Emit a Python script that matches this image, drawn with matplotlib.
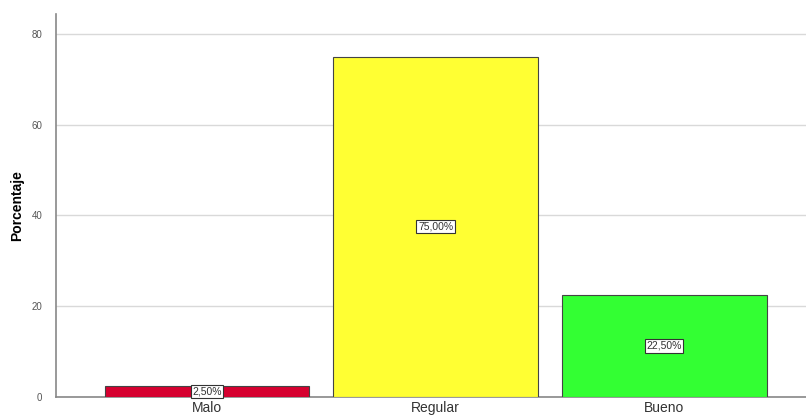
import numpy as np
import matplotlib.pyplot as plt

categorias = ["Malo", "Regular", "Bueno"]
porcentajes = [2.5, 75.0, 22.5]
colores = ["#d6002f", "#ffff33", "#33ff33"]
etiquetas = ["2,50%", "75,00%", "22,50%"]

plt.rcParams['font.family'] = ['Liberation Sans', 'DejaVu Sans']

fig = plt.figure(figsize=(8.06, 4.18), dpi=100)
ax = fig.add_axes([56 / 806, 21 / 418, 750 / 806, 383 / 418])

x = np.arange(len(categorias))
ax.bar(x, porcentajes, width=0.895, color=colores, edgecolor="#444444",
       linewidth=0.8, zorder=3)

for xi, v, t in zip(x, porcentajes, etiquetas):
    ax.text(xi, v / 2, t, ha="center", va="center", fontsize=7.5, color="#333333",
            zorder=4,
            bbox=dict(boxstyle="square,pad=0.15", facecolor="white",
                      edgecolor="#333333", linewidth=0.8))

ax.set_xlim(-0.66, 2.62)
ax.set_ylim(0, 84.4)
ax.set_yticks([0, 20, 40, 60, 80])
ax.set_xticks(x)
ax.set_xticklabels(categorias, fontsize=10, color="#333333")
ax.tick_params(axis="x", length=0, pad=3)
ax.tick_params(axis="y", length=0, labelsize=7, colors="#555555", pad=10)
ax.yaxis.grid(True, color="#d9d9d9", linewidth=1, zorder=0)
ax.set_ylabel("Porcentaje", fontsize=10, fontweight="bold", labelpad=5)

for s in ["top", "right"]:
    ax.spines[s].set_visible(False)
for s in ["left", "bottom"]:
    ax.spines[s].set_color("#888888")
    ax.spines[s].set_linewidth(1.2)

fig.savefig("out.png", dpi=100)
